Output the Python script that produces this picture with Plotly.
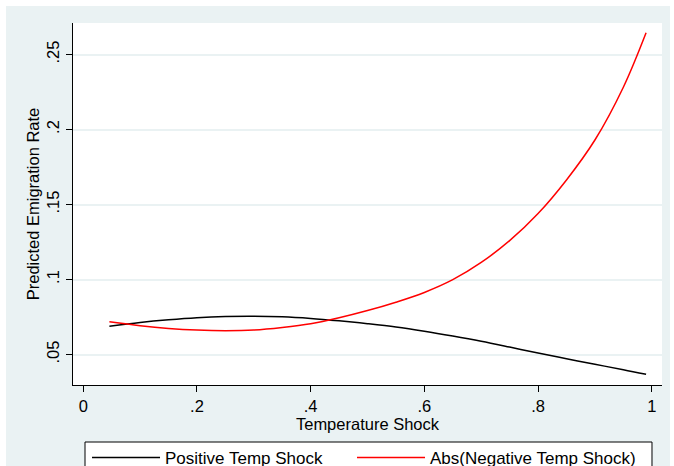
import plotly.graph_objects as go

# Data
shock_x = [0.046, 0.10, 0.15, 0.20, 0.25, 0.30, 0.35, 0.40, 0.45, 0.50,
           0.55, 0.60, 0.65, 0.70, 0.75, 0.80, 0.85, 0.90, 0.95, 0.99]
positive_y = [0.0689, 0.0714, 0.0732, 0.0746, 0.0754, 0.0756, 0.0752, 0.0741, 0.0725, 0.0706,
              0.0684, 0.0656, 0.0624, 0.0589, 0.0550, 0.0510, 0.0472, 0.0435, 0.0399, 0.0368]
negative_y = [0.0718, 0.0692, 0.0674, 0.0663, 0.0659, 0.0663, 0.0680, 0.0705, 0.0745, 0.0793,
              0.0849, 0.0914, 0.0999, 0.1114, 0.1259, 0.1440, 0.1664, 0.1930, 0.2282, 0.2645]

x_ticks = [0, 0.2, 0.4, 0.6, 0.8, 1]
x_tick_labels = ["0", ".2", ".4", ".6", ".8", "1"]
y_ticks = [0.05, 0.10, 0.15, 0.20, 0.25]
y_tick_labels = [".05", ".1", ".15", ".2", ".25"]

series_names = ["Positive Temp Shock", "Abs(Negative Temp Shock)"]

FONT = "Liberation Sans, Arial, Helvetica, sans-serif"
BG = "#EAF2F3"

fig = go.Figure()
fig.add_trace(go.Scatter(x=shock_x, y=positive_y, mode="lines", name=series_names[0],
                         legend="legend",
                         line=dict(color="black", width=1.5, shape="spline")))
fig.add_trace(go.Scatter(x=shock_x, y=negative_y, mode="lines", name=series_names[1],
                         legend="legend2",
                         line=dict(color="#FF0000", width=1.5, shape="spline")))

# outer light background with a thin white frame
fig.add_shape(type="rect", xref="paper", yref="paper", x0=-0.1138, x1=1.0136, y0=-0.4, y1=1.047,
              fillcolor=BG, line_width=0, layer="below")
# plot area
fig.add_shape(type="rect", xref="paper", yref="paper", x0=0, x1=1, y0=0, y1=1,
              fillcolor="white", line_width=0, layer="below")
# legend box
fig.add_shape(type="rect", xref="paper", yref="paper", x0=0.0204, x1=0.983, y0=-0.35, y1=-0.1575,
              fillcolor="white", line=dict(color="black", width=1), layer="below")

legend_common = dict(orientation="h", xanchor="left", y=-0.152, yanchor="top",
                     borderwidth=0, bgcolor="rgba(0,0,0,0)", itemwidth=68,
                     font=dict(size=17))

fig.update_layout(
    width=674, height=466,
    margin=dict(l=73, r=12, t=23, b=81, autoexpand=False),
    paper_bgcolor="white", plot_bgcolor="white",
    font=dict(family=FONT, size=16.5, color="black"),
    showlegend=True,
    legend=dict(x=0.0238, **legend_common),
    legend2=dict(x=0.4737, **legend_common),
    xaxis=dict(range=[-0.018, 1.018], tickvals=x_ticks, ticktext=x_tick_labels,
               showgrid=False, zeroline=False, showline=True, linecolor="black", linewidth=1,
               ticks="outside", ticklen=6, tickcolor="black", tickfont=dict(size=16.5),
               title=dict(text="Temperature Shock", font=dict(size=16.5), standoff=4)),
    yaxis=dict(range=[0.0297, 0.271], tickvals=y_ticks, ticktext=y_tick_labels,
               showgrid=True, gridcolor=BG, gridwidth=1.5, zeroline=False,
               showline=True, linecolor="black", linewidth=1,
               ticks="outside", ticklen=6, tickcolor="black", tickangle=-90,
               tickfont=dict(size=16.5),
               title=dict(text="Predicted Emigration Rate", font=dict(size=16.5), standoff=0)),
)

fig.write_html("out.html", config={"displayModeBar": False},
               post_script="document.body.style.margin='0px';")
